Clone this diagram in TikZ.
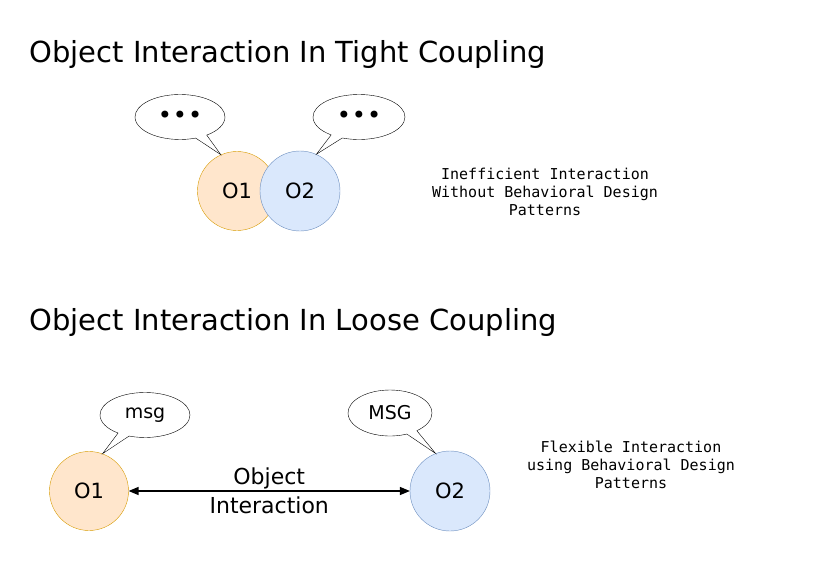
\documentclass[tikz,border=0pt]{standalone}
\usepackage{fontspec}
\setmainfont{DejaVu Sans}
\newfontfamily\notefont{DejaVu Sans Mono}
\usetikzlibrary{arrows}
\usetikzlibrary{shapes.callouts}

\definecolor{fillA}{HTML}{FFE6CC}
\definecolor{lineA}{HTML}{D79B00}
\definecolor{fillB}{HTML}{DAE8FC}
\definecolor{lineB}{HTML}{6C8EBF}

\tikzset{
 heading/.style={anchor=west, font=\fontsize{29}{32}\selectfont},
 objA/.style={circle, draw=lineA, fill=fillA, minimum size=79, inner sep=0, font=\fontsize{21}{24}\selectfont},
 objB/.style={circle, draw=lineB, fill=fillB, minimum size=80, inner sep=0, font=\fontsize{21}{24}\selectfont},
 bubble/.style={ellipse callout, draw, fill=white, inner sep=0, callout pointer arc=16, font=\fontsize{19}{22}\selectfont},
 note/.style={align=center, font=\notefont\fontsize{15}{18}\selectfont}
}

\begin{document}
\begin{tikzpicture}[x=1pt, y=-1pt]
\useasboundingbox (0,0) rectangle (827,583);

% tight coupling
\node[heading] (tighttitle) at (26,55) {Object Interaction In Tight Coupling};
\node[objA] (to1) at (237,191) {O1};
\node[objB] (to2) at (300,191) {O2};
\node[bubble, minimum width=90, minimum height=45, callout absolute pointer={(to1.114)}] (tb1) at (180,117)
  {\fontsize{24}{24}\selectfont\textbullet\hspace{1pt}\textbullet\hspace{1pt}\textbullet};
\node[bubble, minimum width=92, minimum height=45, callout absolute pointer={(to2.66)}] (tb2) at (359,117)
  {\fontsize{24}{24}\selectfont\textbullet\hspace{1pt}\textbullet\hspace{1pt}\textbullet};
\node[note] (tightnote) at (545,192) {Inefficient Interaction\\Without Behavioral Design\\Patterns};

% loose coupling
\node[heading] (loosetitle) at (26,322) {Object Interaction In Loose Coupling};
\node[objA] (lo1) at (89,491) {O1};
\node[objB] (lo2) at (450,491) {O2};
\node[bubble, minimum width=90, minimum height=45, callout absolute pointer={(lo1.70)}] (lb1) at (145,415) {msg};
\node[bubble, minimum width=84, minimum height=46, callout absolute pointer={(lo2.111)}] (lb2) at (390,413) {MSG};
\draw[<->, >=triangle 45, line width=1.3pt] (lo1) -- (lo2)
  node[midway, align=center, font=\fontsize{22}{29}\selectfont] (looselabel) {Object\\Interaction};
\node[note] (loosenote) at (631,465) {Flexible Interaction\\using Behavioral Design\\Patterns};
\end{tikzpicture}
\end{document}
